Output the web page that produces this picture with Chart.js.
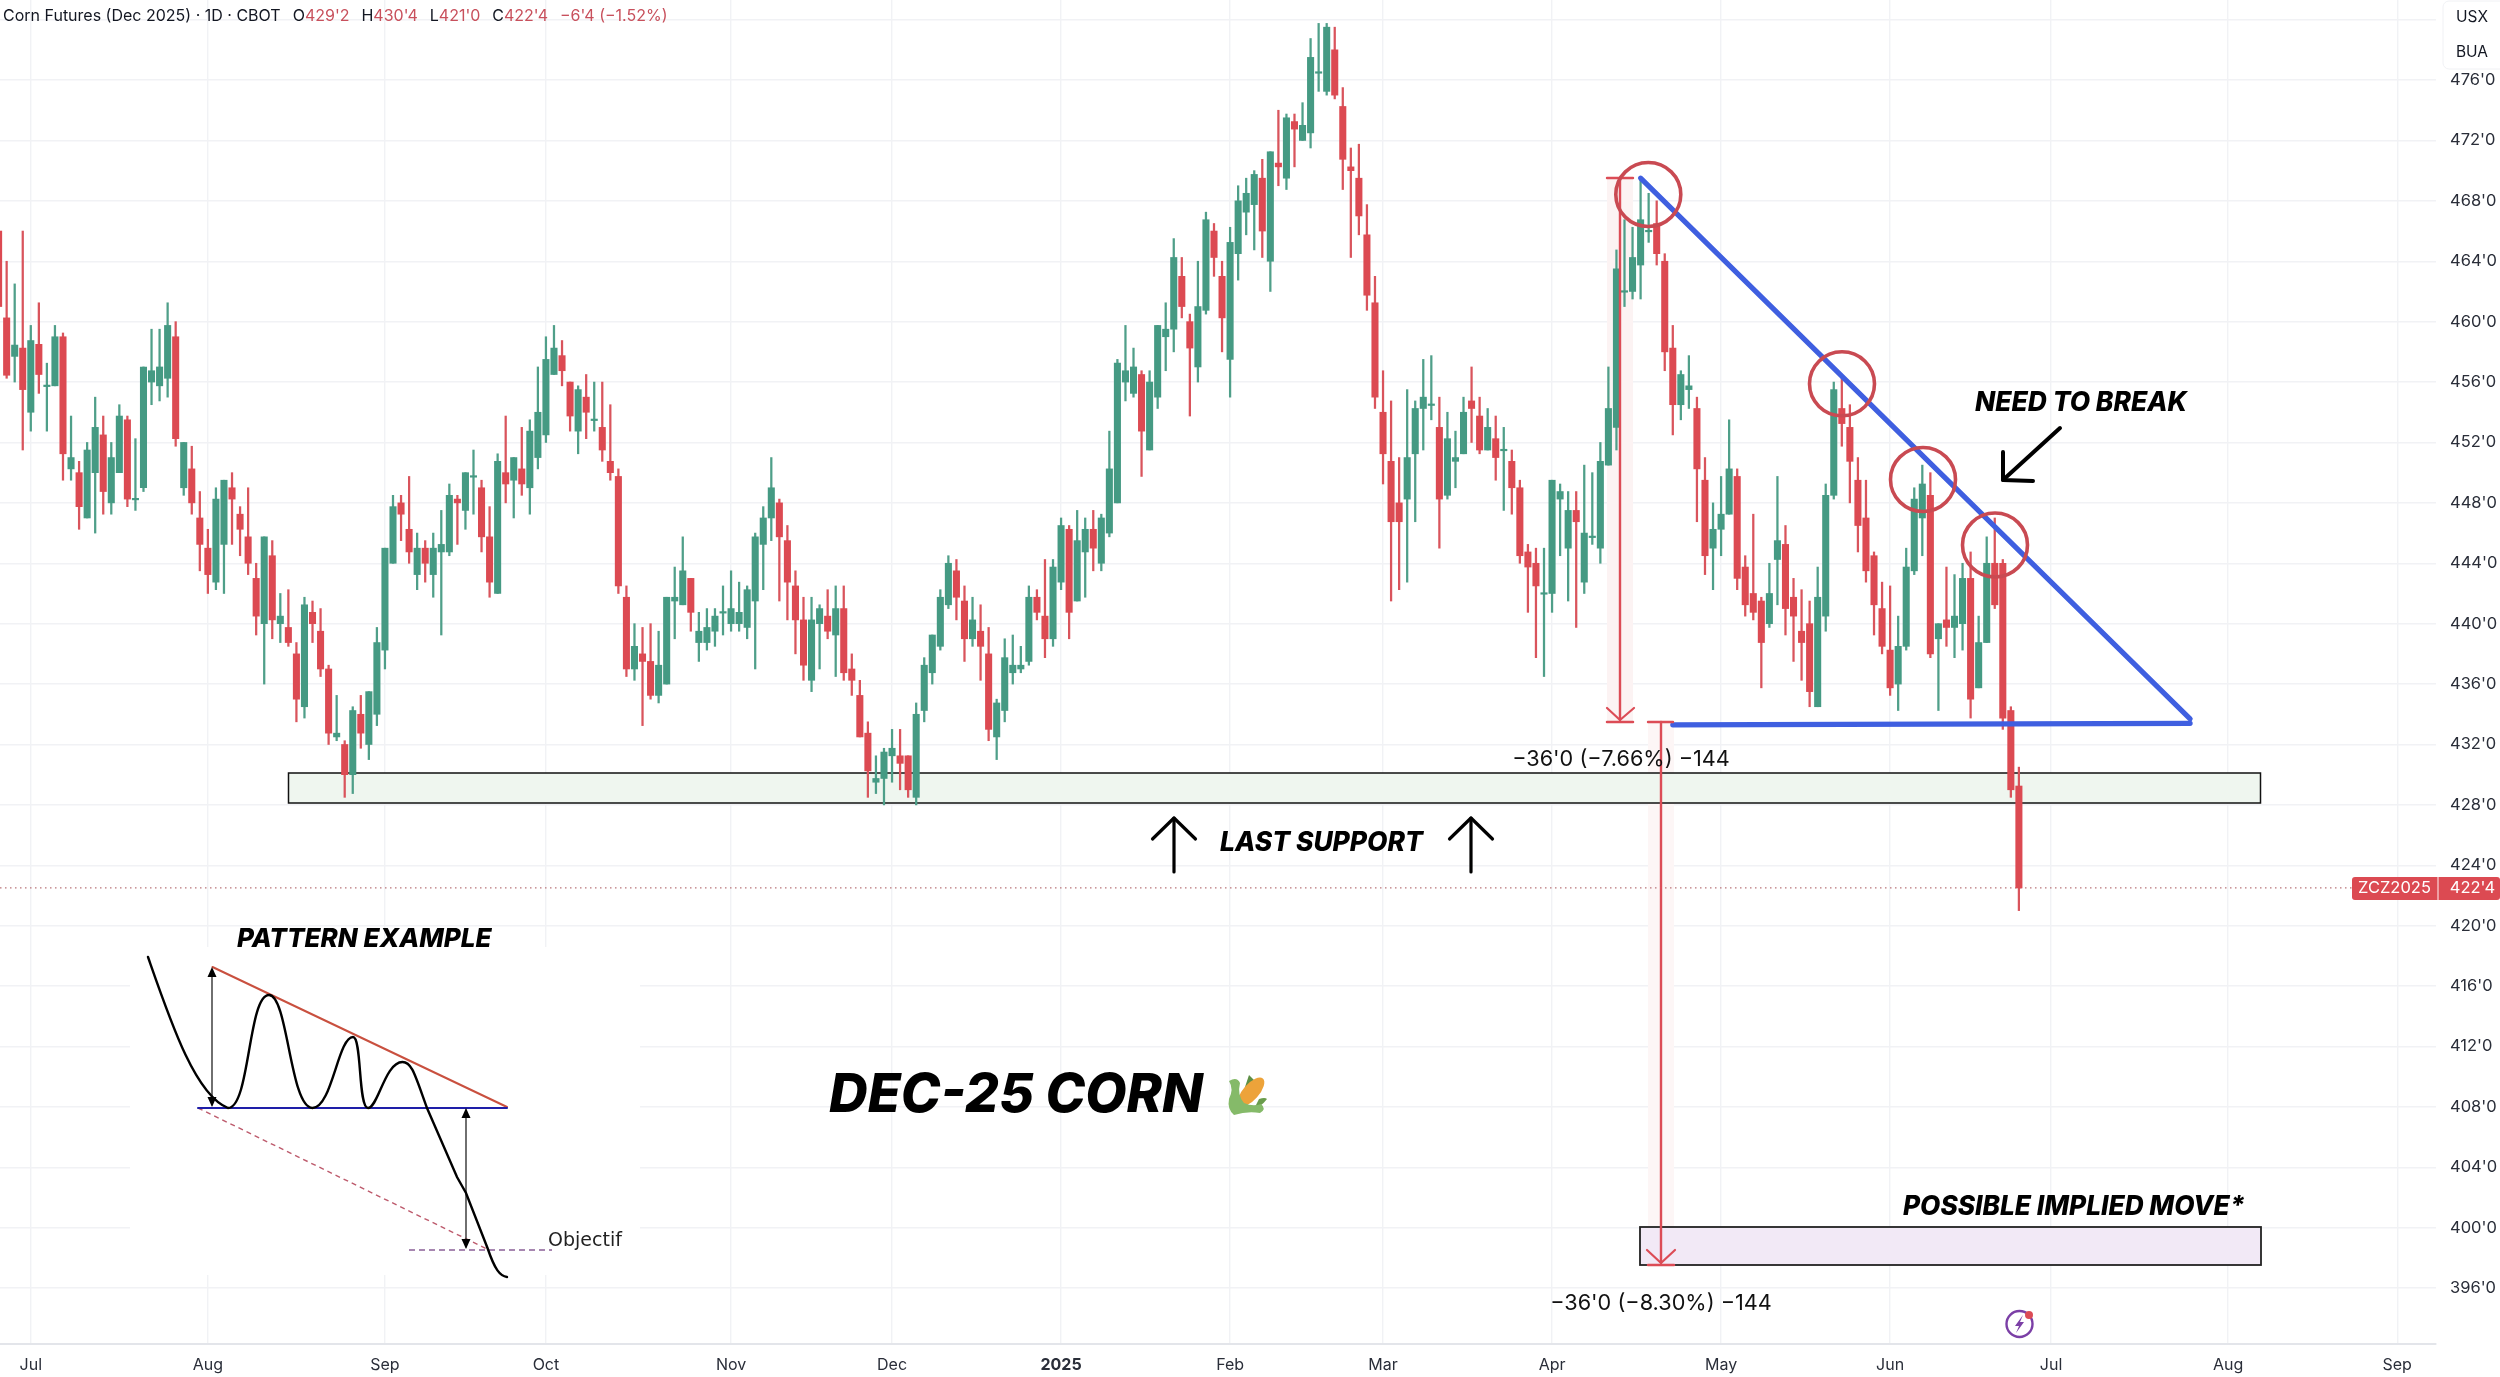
<!DOCTYPE html>
<html><head><meta charset="utf-8">
<style>html,body{margin:0;padding:0;background:#fff}canvas{display:block}</style>
<script src="https://cdn.jsdelivr.net/npm/chart.js@4"></script>
</head><body>
<canvas id="c" width="2500" height="1377"></canvas>
<script>
const opens=[
466,460.25,457.7,458.25,454,458.5,455.7,455.75,459,450.25,
450,447,450,452.5,448,450,453.5,448.2,449,456,
455.75,456.25,459,449,450.25,447,445,442.75,445.25,449,
447.25,445.75,443,440,444.5,440,439.75,438,434.5,440.75,
439.5,437,432.5,432,430,434,432,434,438.25,444,
448,446.25,443.25,445,443.25,444.75,444.75,448.25,447.5,449.7,
449,445.75,442,450,449.5,450.25,449,451,452.5,456.5,
457.75,456,452.75,455,453.45,453,450.75,449.75,441.75,437,
438,437.5,435.25,436,441.5,441.25,443,438.75,438.75,439.5,
440.7,440,440,439.75,441.5,445.25,447,448,445.5,442.5,
440.25,436.25,440,440.5,439.25,441,437,435.25,432.75,429.5,
429.75,431.25,431.25,431.25,428.5,434.25,436.75,438.5,441.25,443.5,
441.5,439,439.5,438,432.5,434.25,436.75,437,437.5,441.75,
440.5,439,442.75,446.25,441.5,444.75,446.25,444,446,448,
456,455.25,456.5,451.5,455,459,459.5,463,460,457,
460.75,466,463,457.5,464.5,467.25,467.75,469.5,464,470.5,
469.5,473.25,472,472.5,476.45,475.25,478,474.25,470.25,469.5,
465.75,461.25,454,450.75,448,448.25,451.25,454.25,454.45,453,
448.5,450.75,451.25,454.75,453.75,451.5,452.25,451.45,450.75,449,
444.75,444,441.95,442,448.25,445,447.5,442.75,445.7,445,
450.5,453,461.95,462,463.75,465.95,466.5,464,458.25,454.5,
455.5,454.25,449.5,445,446.25,447.25,449.75,443.75,442,441.5,
440,444.25,445.25,441.75,439.5,440,434.5,440.5,448.5,454.25,
453,449.5,447,444.5,441,438.25,436,438.5,443.5,447,
448.5,439,440.25,439.75,440,443,435.75,438.75,444,444,434.25,429.25];
const highs=[
466,464,462.5,466,459.75,461.25,457.25,459.75,459.25,453.75,
450.75,452,455,453.75,452,454.5,453.75,452.25,457,459.5,
459.5,461.25,460,452,451.75,448.75,446.25,449,449.5,450,
447.75,449,444,445.75,445.5,442,442.25,438.75,441.75,441.5,
441,437.25,435.25,432.25,434.5,435.25,435.5,439.75,445,448.5,
448.5,449.75,446,445.5,446,447.5,449.25,448.5,450,451.5,
449.5,447.75,451.25,453.75,451,453,453.5,457,459,459.75,
458.75,456,455.75,456.5,456,456,454.5,450.25,442.5,440,
439.75,440,439.5,441.75,443.75,445.75,443,440.75,441,441,
442.5,443.5,442.75,442.5,446,447.75,451,448.25,446.5,443.5,
441.75,441.75,441.25,442.25,442.5,442.5,438,436.25,433.5,431.25,
431.75,433,433,431.25,434.75,437.75,439.25,442.25,444.5,444.25,
442.5,441.75,441.25,439.75,435,439,439.25,438.5,442.5,442.25,
444.25,444.25,447,446.5,447.5,447,447.5,447.25,452.75,457.5,
459.75,458.25,456.75,456.75,459.75,461.25,465.5,464.25,460.5,464,
467.25,466.5,464,466.25,469,469.5,470,470.75,471.25,474,
473.75,473.75,474.5,478.75,479.75,479.75,479.5,475.5,471.5,471.75,
467.75,463,456.75,454.75,451,455.5,454.75,457.5,457.75,455,
454,452.75,455,457,455,454.25,453.75,453,451.5,449.5,
445.25,445,445,449.5,449.25,448.75,448.75,450.5,450,452,
457,464.75,466.75,466.25,469.5,468.5,468,464.5,459.75,456.75,
457.75,455,451,448,449.75,453.5,450.25,444.5,447.25,441.75,
444,449.75,446.5,443,442.25,441.5,443.75,449.25,456,456.5,
454.5,451,449.5,444.75,442.75,442.5,440.5,445,449,450.5,
450,440,443.75,443.25,444,444.75,440.5,445.75,447,444.25,434.5,430.5];
const lows=[
460.5,456.25,456,451.5,452.75,455.25,452.75,455.75,449.5,449.5,
446.25,447,446,447.25,447.25,450,447.75,447.5,448.75,454.5,
454.75,455,451.75,448.5,447.25,443.5,442,442.25,442,445.25,
444.5,443.25,439.25,436,439,438.75,438.5,433.5,433.75,438.75,
436.5,432,432.25,428.5,428.75,431.75,431,433.25,437,444,
445.5,444,442.25,442.75,441.75,439.25,444.5,445.25,446.25,447.25,
444.75,441.75,442,448,447,448.5,447.25,450.25,452,456.5,
455.75,452.75,451.25,452.25,452.75,450.75,449.5,442,436.5,436.25,
433.25,435,434.75,436,439,441.25,439.5,437.5,438.25,438.5,
439.25,439.5,439.5,439,437,442.25,445.5,441.5,440.25,438,
436.25,435.5,437,439,436.5,436.25,435.25,432.5,428.5,428.75,
428,429.5,429,428.5,428,433.5,436,438.25,441,440.25,
437.5,438.5,436.25,432.25,431,433.5,436,436.75,437.25,440.25,
437.75,438.5,442.25,439,441.5,441.75,443.5,443.5,445.75,448,
454.75,455,449.75,451.5,454.25,456.75,458,460.25,453.75,456,
460.5,463,458,455,462.75,465.75,464.75,464.25,462,469,
468.75,470.25,472,471.5,475.25,475,474.75,468.75,464.25,465.75,
460.75,454.25,449.25,441.5,442.25,442.75,446.75,451.5,453.5,445,
448.25,449,451.25,452,451.25,451.5,449.5,447.5,447.25,444,
440.75,437.75,436.5,440.75,444.5,441.5,439.75,442,445.25,444,
450.5,451.5,461,461.5,461.5,465.25,463.75,456.75,452.5,453.5,
454.25,446.75,443.25,442.25,444.5,447.25,442.25,440.5,440.25,435.75,
439.75,441.25,439.25,437.5,436.25,434.5,434.5,439.5,448.25,451.75,
448,444.75,442.75,439.25,438,435.25,434.25,438.25,443.25,444.5,
437.75,434.25,438.5,437.75,438.25,433.75,435.75,438.75,441,433,428.5,421];
const closes=[
461,456.45,458.45,455.5,458.75,456.5,455.8,459,451.25,451,
447.75,451.5,453,448.75,451,453.75,448.25,448.3,457,456.75,
457,459.75,452.25,452,448,445.25,443.25,448.25,449.5,448.25,
446.25,444,440.5,445.75,440.25,440.5,438.75,435,441.25,440,
437,432.75,432.75,430,434.25,432.75,435.5,438.75,445,447.75,
447.25,444.75,445,444,445,445.25,448.5,448,450,449.8,
445.75,442.75,450.75,449.25,451,449.25,452.75,454,457.5,458.25,
456.75,453.75,455.5,454,453.55,451.5,450,442.5,437,438.5,
437.5,435.25,437.25,441.75,441.75,443.5,440.75,439.5,439.75,440.5,
440.8,441,440.75,442.25,445.75,447,449,445.75,442.75,440.25,
437.25,440.25,441,439.5,441,436.75,436.25,432.5,430.25,429.75,
431.5,431.75,430.75,429,434,437.25,439.25,441.75,444,441.75,
439,440.25,438.5,433,434.75,437.75,437.25,437.25,441.75,440.75,
439,443.75,446.5,440.75,445.5,446.25,445,447,450.25,457.25,
456.75,457,452.75,456,459.75,459.5,464.25,461,458.25,461,
466.75,464.25,460.25,465.25,468,468.5,469.75,466,471.25,470.25,
473.5,472.75,473,477.5,476.55,479.5,475,470.75,470,467,
461.75,455,451.25,446.75,446.75,451,454.25,455,454.55,448.25,
452.25,451,454,454.25,451.5,453,451,451.55,449,444.5,
443.75,442.5,442.05,449.5,448.75,447.5,446.75,446,445.8,450.75,
454.25,463.5,462.05,464.25,466.75,466.05,464.5,458,454.5,456.5,
455.75,450.25,444.5,446.25,447.25,450.25,443,441.25,440.75,438.75,
442,445.5,441,440.5,438.75,435.5,441.75,448.5,455.5,453.25,
450.75,446.5,443.5,441.25,438.5,435.75,438.5,443.75,448.25,449.25,
438,440,439.75,440.5,443,435,438.75,444,441.25,433.75,429,422.5];
const monthTicks=[4,26,48,68,91,111,132,153,172,193,214,235,255,277,298];
const monthLabels=["Jul","Aug","Sep","Oct","Nov","Dec","2025","Feb","Mar","Apr","May","Jun","Jul","Aug","Sep"];
const priceTicks=[480,476,472,468,464,460,456,452,448,444,440,436,432,428,424,420,416,412,408,404,400,396];
const trendUpperX=[204,272.27], trendUpperY=[469.5,433.7];
const trendLowerX=[208,272.27], trendLowerY=[433.3,433.4];
const lastPrice=422.5;

const UP='#459a83',DOWN='#dc4a52',WICK_UP='#4f9f89',WICK_DOWN='#d9545c';
const SANS='Inter, "Liberation Sans", sans-serif';
const idx=opens.map((_,i)=>i);
const isUp=i=>closes[i]>=opens[i];

function arrowLine(ctx,pts,w,col){ctx.save();ctx.strokeStyle=col;ctx.lineWidth=w;ctx.lineCap='round';ctx.lineJoin='round';ctx.beginPath();pts.forEach((p,i)=>i?ctx.lineTo(p[0],p[1]):ctx.moveTo(p[0],p[1]));ctx.stroke();ctx.restore();}
function text(ctx,s,x,y,font,col,align,maxW){ctx.save();ctx.font=font;ctx.fillStyle=col;ctx.textAlign=align||'left';ctx.textBaseline='middle';if(maxW)ctx.fillText(s,x,y,maxW);else ctx.fillText(s,x,y);ctx.restore();}
function rect(ctx,x0,y0,x1,y1,fill,stroke,w){ctx.save();if(fill){ctx.fillStyle=fill;ctx.fillRect(x0,y0,x1-x0,y1-y0);}if(stroke){ctx.strokeStyle=stroke;ctx.lineWidth=w;ctx.strokeRect(x0,y0,x1-x0,y1-y0);}ctx.restore();}
function tri(ctx,x,y,dir,col){ctx.save();ctx.fillStyle=col;ctx.beginPath();ctx.moveTo(x,y);ctx.lineTo(x-4.5,y+dir*10);ctx.lineTo(x+4.5,y+dir*10);ctx.closePath();ctx.fill();ctx.restore();}

const under={id:'under',beforeDatasetsDraw(ch){const c=ch.ctx;
  rect(c,130,947,640,1275,'#ffffff');
  rect(c,1607,178,1633,722,'#fcf3f3');
  rect(c,1648,722,1674,1265,'#fdf6f6');
  rect(c,288.5,773,2260.5,803,'#eff6ef','#111',1.5);
  rect(c,1640,1227,2261,1265,'#f2e9f6','#222',1.8);
  c.save();c.strokeStyle='#b9757a';c.lineWidth=1.2;c.setLineDash([1.5,3.5]);const y=ch.scales.y.getPixelForValue(lastPrice);c.beginPath();c.moveTo(0,y);c.lineTo(2352,y);c.stroke();c.restore();
}};
const over={id:'over',afterDatasetsDraw(ch){const c=ch.ctx;
  const R='#dc4c56';
  arrowLine(c,[[1620,178],[1620,720]],2.4,R);
  arrowLine(c,[[1607,178],[1633,178]],2.4,R);arrowLine(c,[[1607,722],[1633,722]],2.5,R);arrowLine(c,[[1607,708],[1620,720],[1634,708]],2.2,R);
  arrowLine(c,[[1661,722],[1661,1263]],2.4,R);
  arrowLine(c,[[1648,722],[1673,722]],2.4,R);arrowLine(c,[[1648,1265],[1674,1265]],2.5,R);arrowLine(c,[[1647,1250],[1661,1263],[1675,1250]],2.2,R);
  c.save();c.strokeStyle='#c94a52';c.lineWidth=3.6;
  [[1648.3,194.5],[1842,383.8],[1923,479.5],[1995,545]].forEach(e=>{c.beginPath();c.ellipse(e[0],e[1],32.5,32,0,0,Math.PI*2);c.stroke();});
  c.restore();
  arrowLine(c,[[2060,428],[2003,480]],4,'#000');
  arrowLine(c,[[2003,452],[2003,480],[2033,481]],4,'#000');
  [1174,1471].forEach(x=>{arrowLine(c,[[x,872],[x,818]],3.2,'#000');arrowLine(c,[[x-21.5,839],[x,818],[x+21.5,839]],3.2,'#000');});
  c.save();c.setLineDash([5,4]);c.strokeStyle='#bd5a6c';c.lineWidth=1.4;c.beginPath();c.moveTo(198,1108);c.lineTo(489,1250);c.stroke();c.restore();
  c.save();c.strokeStyle='#8a5f96';c.lineWidth=1.6;c.setLineDash([6,4]);c.beginPath();c.moveTo(409,1250);c.lineTo(552,1250);c.stroke();c.restore();
  arrowLine(c,[[212.5,967],[507,1107]],2,'#c9503f');
  arrowLine(c,[[198,1108],[507,1108]],2,'#1e1ea8');
  arrowLine(c,[[212,970],[212,1105]],1.4,'#333');tri(c,212,967,1,'#000');tri(c,212,1107,-1,'#000');
  arrowLine(c,[[466,1110],[466,1247]],1.4,'#333');tri(c,466,1108,1,'#000');tri(c,466,1249,-1,'#000');
  c.save();c.strokeStyle='#000';c.lineWidth=2.4;c.lineCap='round';c.beginPath();
  c.moveTo(148,957);c.bezierCurveTo(170,1020,195,1095,228,1108);
  c.bezierCurveTo(250,1108,248,995,269,995);
  c.bezierCurveTo(288,995,290,1108,312.5,1108);
  c.bezierCurveTo(332,1108,338,1037,353,1037);
  c.bezierCurveTo(362,1037,358,1108,368,1108);
  c.bezierCurveTo(378,1108,385,1062,402.5,1062);
  c.bezierCurveTo(412,1062,415,1075,427,1108);
  c.lineTo(457,1177);c.lineTo(466,1193);c.lineTo(487.5,1248);
  c.bezierCurveTo(495,1270,500,1276,507,1277);
  c.stroke();c.restore();
  text(c,'Objectif',548,1241,'19px "DejaVu Sans"','#222');
  drawCorn(c,1247,1095);
  const HB='italic 800 ';
  text(c,'PATTERN EXAMPLE',237,939.5,HB+'26px '+SANS,'#000','left',255);
  text(c,'NEED TO BREAK',1975,403.5,HB+'26.5px '+SANS,'#000','left',212);
  text(c,'LAST SUPPORT',1220,843,HB+'26.5px '+SANS,'#000','left',203);
  text(c,'POSSIBLE IMPLIED MOVE*',1903,1207.5,HB+'26.5px '+SANS,'#000','left',342);
  text(c,'DEC-25 CORN',829,1096,HB+'54px '+SANS,'#000','left',374);
  text(c,"\u221236'0 (\u22127.66%) \u2212144",1621,759.5,'21.7px '+SANS,'#111','center');
  text(c,"\u221236'0 (\u22128.30%) \u2212144",1661,1303.5,'21.7px '+SANS,'#111','center');
  c.save();c.strokeStyle='#7b3fa6';c.lineWidth=2.4;c.beginPath();c.arc(2019.5,1324,13,0,Math.PI*2);c.stroke();
  c.fillStyle='#7b3fa6';c.beginPath();c.moveTo(2023,1315);c.lineTo(2015,1326);c.lineTo(2019,1326);c.lineTo(2016,1333);c.lineTo(2024,1322);c.lineTo(2020,1322);c.closePath();c.fill();
  c.fillStyle='#dc4c56';c.beginPath();c.arc(2029,1315,4,0,Math.PI*2);c.fill();c.restore();
  let x=3;const F='16px '+SANS,y=16,DK='#131722',RD='#c8505c';
  [["Corn Futures (Dec 2025) \u00b7 1D \u00b7 CBOT",DK,12],["O",DK,0],["429'2",RD,12],["H",DK,0],["430'4",RD,12],["L",DK,0],["421'0",RD,12],["C",DK,0],["422'4",RD,12],["\u22126'4 (\u22121.52%)",RD,0]].forEach(p=>{
    c.font=F;text(c,p[0],x,y,F,p[1]);x+=c.measureText(p[0]).width+p[2];});
  c.save();c.fillStyle='#fff';c.strokeStyle='#f0f1f4';c.lineWidth=1;c.beginPath();c.roundRect(2443,1,70,68,6);c.fill();c.stroke();c.restore();
  text(c,'USX',2472,17,'15.5px '+SANS,'#131722','center');
  text(c,'BUA',2472,52,'15.5px '+SANS,'#131722','center');
  c.save();c.fillStyle='#dc4a52';c.beginPath();c.roundRect(2352,877,148,23,3);c.fill();c.restore();
  c.save();c.strokeStyle='#f6c4c7';c.lineWidth=1.4;c.beginPath();c.moveTo(2438,877);c.lineTo(2438,900);c.stroke();c.restore();
  text(c,'ZCZ2025',2394.5,888.5,'16.5px '+SANS,'#fff','center',73);
  text(c,"422'4",2472.5,888.5,'16.5px '+SANS,'#fff','center');
}};
function drawCorn(c,x,y){c.save();c.translate(x,y);
  c.fillStyle='#5d8f45';c.beginPath();c.moveTo(-2,-8);c.lineTo(2,-20);c.lineTo(8,-14);c.lineTo(4,-4);c.closePath();c.fill();
  c.fillStyle='#eda33a';c.beginPath();c.ellipse(4,-3,8,18,0.72,0,Math.PI*2);c.fill();
  c.fillStyle='#6a9c4c';c.beginPath();c.moveTo(12,4);c.quadraticCurveTo(18,2,20,4);c.quadraticCurveTo(14,12,8,12);c.closePath();c.fill();
  c.fillStyle='#85ba69';c.beginPath();c.moveTo(-18,-14);c.quadraticCurveTo(-10,-19,-7,-12);c.quadraticCurveTo(-10,0,-3,8);c.quadraticCurveTo(6,12,14,9);c.quadraticCurveTo(20,14,13,18);c.quadraticCurveTo(0,16,-13,20);c.quadraticCurveTo(-20,14,-18,4);c.quadraticCurveTo(-13,-6,-18,-14);c.closePath();c.fill();
  c.restore();}

new Chart(document.getElementById('c'),{
  data:{datasets:[
    {type:'line',order:0,data:trendUpperX.map((x,i)=>({x,y:trendUpperY[i]})),borderColor:'#3f5fe0',borderWidth:5.2,pointRadius:0,borderCapStyle:'round',tension:0},
    {type:'line',order:0,data:trendLowerX.map((x,i)=>({x,y:trendLowerY[i]})),borderColor:'#3f5fe0',borderWidth:5.2,pointRadius:0,borderCapStyle:'round',tension:0},
    {type:'bar',order:2,grouped:false,barThickness:1.6,data:idx.map(i=>({x:i,y:[lows[i],highs[i]]})),backgroundColor:idx.map(i=>isUp(i)?WICK_UP:WICK_DOWN),borderWidth:0},
    {type:'bar',order:1,grouped:false,barThickness:6.4,data:idx.map(i=>({x:i,y:[Math.min(opens[i],closes[i]),Math.max(opens[i],closes[i])]})),backgroundColor:idx.map(i=>isUp(i)?UP:DOWN),borderWidth:0}
  ]},
  plugins:[under,over],
  options:{
    responsive:false,animation:false,devicePixelRatio:1,
    layout:{padding:0},
    plugins:{legend:{display:false},tooltip:{enabled:false},title:{display:false}},
    scales:{
      x:{type:'linear',min:0.174,max:302.82,offset:false,
        grid:{color:'#f1f2f5',lineWidth:1.4,drawTicks:false,offset:false},
        border:{color:'#e3e5ea',width:2},
        afterBuildTicks(s){s.ticks=monthTicks.map(v=>({value:v}));},
        afterFit(s){s.height=33;s.paddingLeft=0;s.paddingRight=0;s.paddingTop=0;s.paddingBottom=0;},
        ticks:{autoSkip:false,maxRotation:0,minRotation:0,padding:12,color:'#2a2e39',
          font:c=>({family:'Inter',size:16,weight:c.index===6?'700':'400'}),
          callback:(v,i)=>monthLabels[i]}},
      y:{type:'linear',position:'right',min:392.3,max:481.3,
        grid:{color:'#f1f2f5',lineWidth:1.4,drawTicks:false},
        border:{display:false},
        afterBuildTicks(s){s.ticks=priceTicks.map(v=>({value:v}));},
        afterFit(s){s.width=64;s.paddingLeft=0;s.paddingRight=0;s.paddingTop=0;s.paddingBottom=0;},
        ticks:{autoSkip:false,padding:14,color:'#2a2e39',font:{family:'Inter',size:16.5},crossAlign:'near',
          callback:v=>v===480?'':v+"'0"}}
    }
  }
});
</script>
</body></html>
